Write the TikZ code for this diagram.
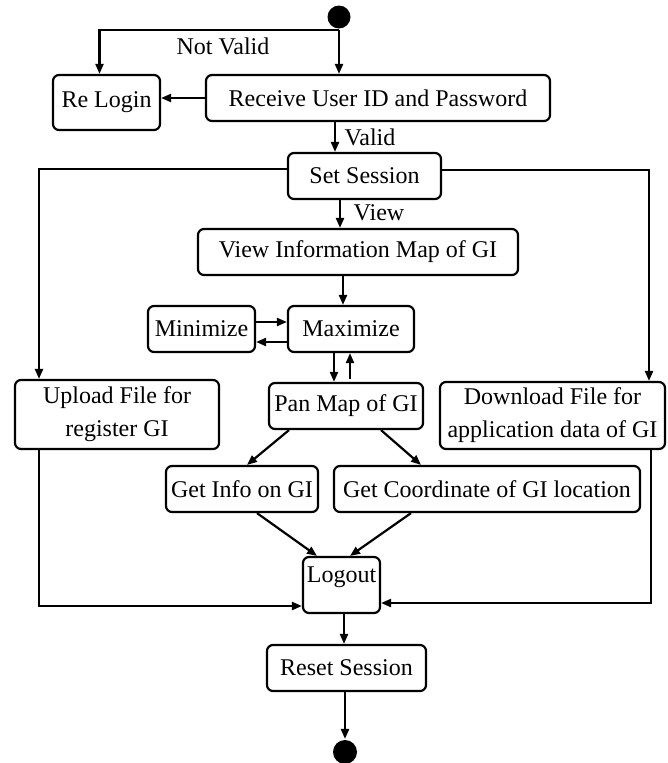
\documentclass[tikz,border=0pt]{standalone}
\usepackage{fontspec}
\setmainfont{Liberation Serif}
\usetikzlibrary{arrows.meta}
\begin{document}
\begin{tikzpicture}[x=1pt,y=-1pt,
  line width=2.2pt,
  box/.style={draw,rounded corners=6pt,inner sep=0pt,align=center,
    font=\fontsize{24}{33}\selectfont},
  lbl/.style={inner sep=0pt,font=\fontsize{24}{28}\selectfont},
  dot/.style={fill=black,circle,inner sep=0pt,minimum size=23pt},
  flow/.style={-{Triangle[length=10pt,width=8pt]}}]
\useasboundingbox (0,0) rectangle (667,763);

% activity states
\node[dot] (start) at (339,17) {};
\node[box,minimum width=107pt,minimum height=55pt] (relogin) at (106.5,102.5) {Re Login};
\node[box,minimum width=344pt,minimum height=46pt] (receive) at (378,98) {Receive User ID and Password};
\node[box,minimum width=153pt,minimum height=46pt] (setsession) at (364.5,176) {Set Session};
\node[box,minimum width=320pt,minimum height=46pt] (viewinfo) at (358,252) {View Information Map of GI};
\node[box,minimum width=107pt,minimum height=46pt] (minimize) at (201.5,329) {Minimize};
\node[box,minimum width=126pt,minimum height=46pt] (maximize) at (351,329) {Maximize};
\node[box,minimum width=154pt,minimum height=46pt] (pan) at (346,406) {Pan Map of GI};
\node[box,minimum width=204pt,minimum height=69pt] (upload) at (117,414.5) {Upload File for\\register GI};
\node[box,minimum width=225pt,minimum height=67pt] (download) at (552.5,415.5) {Download File for\\application data of GI};
\node[box,minimum width=152pt,minimum height=46pt] (getinfo) at (242,489) {Get Info on GI};
\node[box,minimum width=306pt,minimum height=46pt] (getcoord) at (487,489) {Get Coordinate of GI location};
\node[box,minimum width=77pt,minimum height=56pt,text depth=20pt] (logout) at (341.5,585) {Logout};
\node[box,minimum width=159pt,minimum height=46pt] (reset) at (346.5,668) {Reset Session};
\node[dot,minimum size=24pt] (end) at (345,752) {};

% guard labels
\node[lbl] (notvalid) at (223,46) {Not Valid};
\node[lbl] (valid) at (370,137) {Valid};
\node[lbl] (view) at (379,213) {View};

% transitions
\draw[flow] (start.south) -- (start.south |- receive.north);
\draw[flow] (start.south) -| ([xshift=-7pt]relogin.north);
\draw[flow] (receive.west) -- (relogin.east |- receive.west);
\draw[flow] ([xshift=-43pt]receive.south) -- ([xshift=-43pt]receive.south |- setsession.north);
\draw[flow] ([yshift=7pt]setsession.west) -| ([xshift=-78pt]upload.north);
\draw[flow] ([yshift=6pt]setsession.east) -| ([xshift=96.5pt]download.north);
\draw[flow] ([xshift=-24.5pt]setsession.south) -- ([xshift=-24.5pt]setsession.south |- viewinfo.north);
\draw[flow] ([xshift=-8pt]maximize.north |- viewinfo.south) -- ([xshift=-8pt]maximize.north);
\draw[flow] ([yshift=7pt]minimize.east) -- ([yshift=7pt]maximize.west);
\draw[flow] ([yshift=-13pt]maximize.west) -- ([yshift=-13pt]minimize.east);
\draw[flow] ([xshift=-17pt]maximize.south) -- ([xshift=-17pt]maximize.south |- pan.north);
\draw[flow] ([xshift=4pt,yshift=3pt]pan.north) -- ([xshift=4pt]pan.north |- maximize.south);
\draw[flow] ([xshift=-57pt]pan.south) -- ([xshift=5pt]getinfo.north);
\draw[flow] ([xshift=35pt]pan.south) -- ([xshift=-66pt]getcoord.north);
\draw[flow] ([xshift=15pt]getinfo.south) -- ([xshift=-24.5pt]logout.north);
\draw[flow] ([xshift=-76pt]getcoord.south) -- ([xshift=8.5pt]logout.north);
\draw[flow] ([xshift=-78pt]upload.south) |- ([yshift=-21pt]logout.west);
\draw[flow] ([xshift=98.5pt]download.south) |- ([yshift=-18pt]logout.east);
\draw[flow] ([xshift=2.5pt]logout.south) -- ([xshift=2.5pt]logout.south |- reset.north);
\draw[flow] ([xshift=-1.5pt]reset.south) -- ([xshift=-1.5pt]reset.south |- end.north);
\end{tikzpicture}
\end{document}
